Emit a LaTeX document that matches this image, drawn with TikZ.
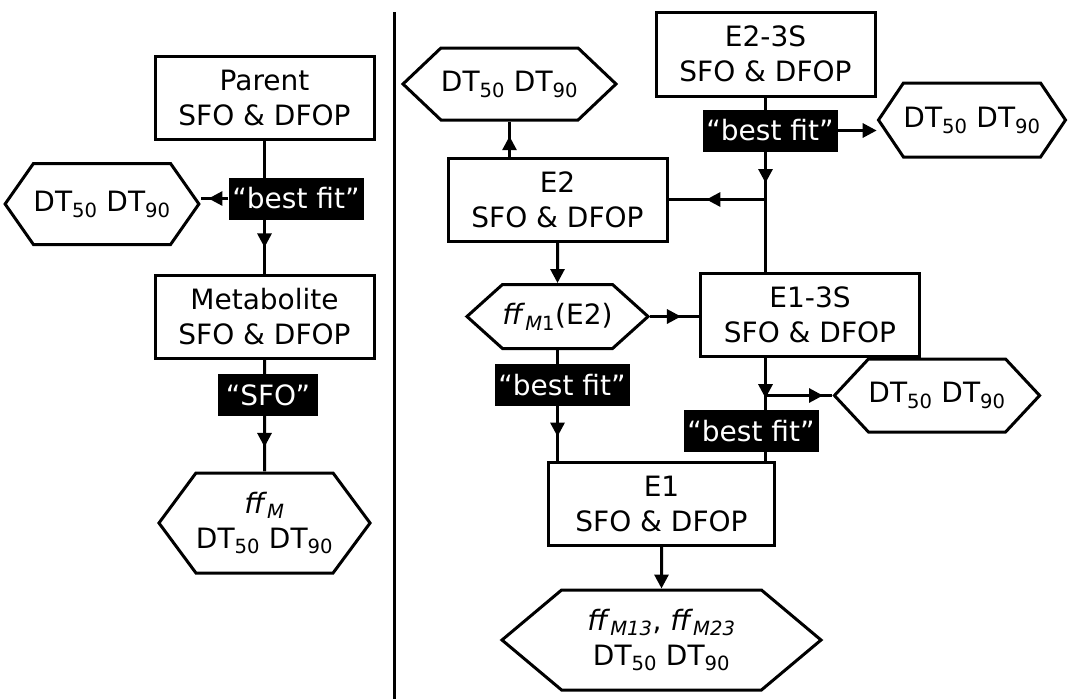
\documentclass[tikz,border=0pt]{standalone}
\usepackage{fontspec}
\setmainfont{DejaVu Sans}
\usetikzlibrary{arrows.meta}
\usetikzlibrary{shapes.symbols}
\usetikzlibrary{decorations.markings}
\usetikzlibrary{backgrounds}

\begin{document}
\begin{tikzpicture}[x=1pt, y=-1pt,
    font=\fontsize{28}{35}\selectfont,
    wire/.style={line width=3pt},
    model/.style={wire, draw, fill=white, align=center, minimum width=219pt, minimum height=83pt, inner sep=0pt},
    result/.style={wire, draw, fill=white, align=center, signal, signal to=west and east, signal pointer angle=#1, inner sep=0pt},
    pick/.style={fill=black, text=white, minimum width=135pt, minimum height=42pt, inner sep=0pt},
    flow/.style={wire, postaction={decorate}, decoration={markings, mark=at position #1 with {\arrow{Triangle[length=14pt,width=14pt]}}}},
    endflow/.style={wire, -{Triangle[length=14pt,width=14pt]}}]
    \useasboundingbox (0,0) rectangle (1075,699);

    % single compound
    \node[model] (parent) at (264.5,98) {Parent\\SFO \& DFOP};
    \node[pick] (bf1) at (296,198.5) {“best fit”};
    \node[result=110, minimum width=182pt, minimum height=81pt] (dt1) at (102,204) {DT\textsubscript{50} DT\textsubscript{90}};
    \node[model] (metab) at (264.5,317) {Metabolite\\SFO \& DFOP};
    \node[pick, minimum width=100pt] (sfo) at (268,395) {“SFO”};
    \node[result=107, minimum width=182pt, minimum height=100pt] (ffm) at (264.5,523) {\textit{ff}\textsubscript{\textit{M}}\\DT\textsubscript{50} DT\textsubscript{90}};

    \draw[wire] (394.5,12) -- (394.5,699);

    % two enantiomers
    \node[result=87, minimum width=190pt, minimum height=72pt] (dt2) at (509.5,84) {DT\textsubscript{50} DT\textsubscript{90}};
    \node[model, minimum height=84pt] (e23) at (765.5,54) {E2-3S\\SFO \& DFOP};
    \node[pick] (bfa) at (770,130.5) {“best fit”};
    \node[result=112, minimum width=181pt, minimum height=74pt] (dt3) at (972,120) {DT\textsubscript{50} DT\textsubscript{90}};
    \node[model] (e2) at (557.5,199.5) {E2\\SFO \& DFOP};
    \node[result=84, minimum width=181pt, minimum height=64pt] (ffm1) at (557.5,316.5) {\textit{ff}\textsubscript{\textit{M}1}(E2)};
    \node[model] (e13) at (810,315) {E1-3S\\SFO \& DFOP};
    \node[pick] (bfb) at (562,385) {“best fit”};
    \node[pick] (bfc) at (751,431) {“best fit”};
    \node[result=94, minimum width=200pt, minimum height=73pt] (dt4) at (937,395.5) {DT\textsubscript{50} DT\textsubscript{90}};
    \node[model, minimum width=226pt] (e1) at (661.5,504) {E1\\SFO \& DFOP};
    \node[result=80, minimum width=319pt, minimum height=100pt] (dt5) at (661.5,640) {\textit{ff}\textsubscript{\textit{M13}}, \textit{ff}\textsubscript{\textit{M23}}\\DT\textsubscript{50} DT\textsubscript{90}};

    \begin{scope}[on background layer]
        \draw[flow=0.80] (parent) -- (metab);
        \draw[flow=0.72] (bf1.west) -- (bf1.west -| dt1.east);
        \draw[flow=0.78] (metab) -- (ffm);

        \draw[flow=0.49] (e23.south) -- (e23.south |- e13.north);
        \draw[endflow] (bfa.east) -- (bfa.east -| dt3.west);
        \draw[flow=0.61] (e2.east -| e23.south) -- (e2.east);
        \draw[flow=0.58] (e2.north -| dt2.south) -- (dt2.south);
        \draw[endflow] (e2) -- (ffm1);
        \draw[flow=0.63] (ffm1.east) -- (ffm1.east -| e13.west);
        \draw[flow=0.78] (ffm1.south) -- (ffm1.south |- e1.north);
        \draw[flow=0.39] (e13.south -| e23.south) -- (e1.north -| e23.south);
        \draw[flow=0.86] (e23.south |- dt4.west) -- (dt4.west);
        \draw[endflow] (e1) -- (dt5);
    \end{scope}
\end{tikzpicture}
\end{document}
